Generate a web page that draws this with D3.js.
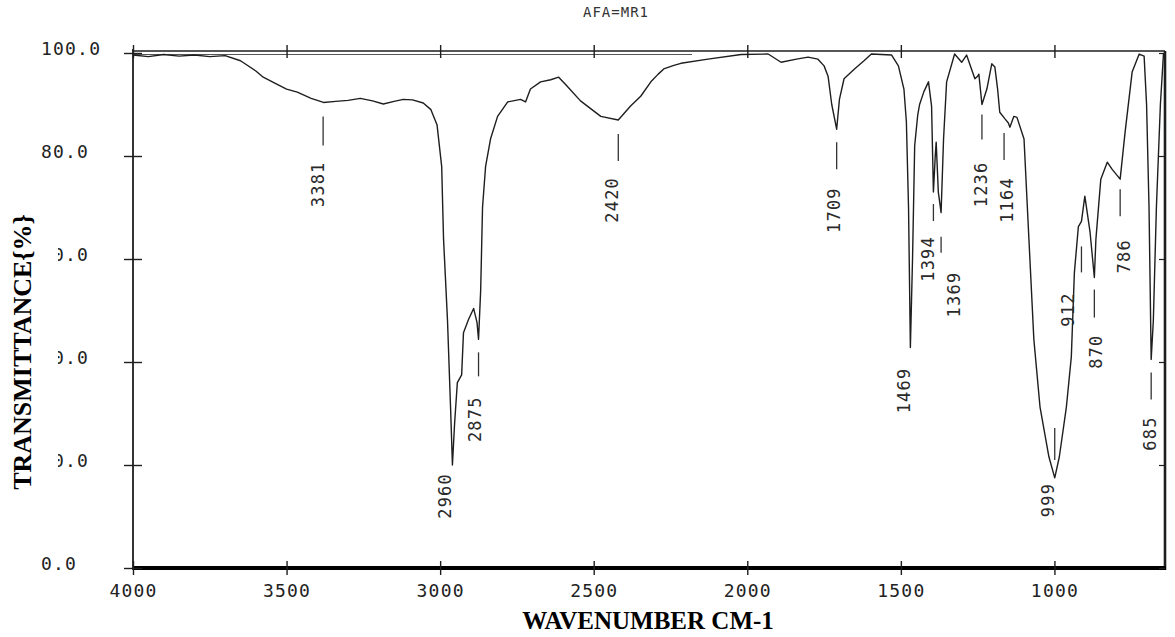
<!DOCTYPE html>
<html>
<head>
<meta charset="utf-8">
<script src="https://cdn.jsdelivr.net/npm/d3@7"></script>
<style>
  html, body { margin: 0; padding: 0; background: #fff; }
  svg { display: block; }
</style>
</head>
<body>
<svg id="chart" width="1175" height="637"></svg>
<script>
// ---------------- DATA ----------------
const chartTitle = "AFA=MR1";
const xAxisTitle = "WAVENUMBER CM-1";
const yAxisTitle = "TRANSMITTANCE{%}";
const xTickValues = [4000, 3500, 3000, 2500, 2000, 1500, 1000];
const yTickValues = [0, 20, 40, 60, 80, 100];

const wavenumbers = [
  4000, 3950, 3900, 3850, 3800, 3750, 3700, 3650, 3600, 3576, 3540, 3500, 3465, 3420, 3380,
  3340, 3300, 3260, 3220, 3185, 3150, 3120, 3090, 3055, 3030, 3010, 2995, 2989, 2976, 2966,
  2960, 2953, 2944, 2930, 2924, 2908, 2891, 2880, 2875, 2868, 2862, 2852, 2836, 2813, 2780,
  2738, 2722, 2706, 2673, 2640, 2614, 2590, 2543, 2477, 2420, 2380, 2347, 2314, 2290, 2272,
  2239, 2216, 2128, 2020, 1932, 1890, 1840, 1802, 1770, 1750, 1737, 1725, 1709, 1700, 1685,
  1651, 1620, 1596, 1530, 1508, 1490, 1482, 1475, 1469, 1462, 1455, 1445, 1439, 1425, 1410,
  1400, 1394, 1388, 1385, 1378, 1369, 1361, 1351, 1325, 1302, 1286, 1259, 1250, 1246, 1236,
  1220, 1204, 1194, 1185, 1178, 1161, 1150, 1145, 1132, 1122, 1099, 1083, 1067, 1047, 1018,
  999, 984, 961, 945, 935, 922, 912, 901, 884, 870, 865, 849, 828, 812, 786,
  770, 747, 724, 708, 700, 692, 685, 678, 668, 655, 645, 640
];
const transmittance = [
  99.6, 99.3, 99.7, 99.4, 99.6, 99.3, 99.5, 98.5, 96.5, 95.3, 94.2, 93.0, 92.4, 91.2, 90.4,
  90.6, 90.8, 91.2, 90.7, 90.1, 90.6, 91.0, 90.9, 90.3, 89.0, 86.0, 78.0, 64.0, 48.0, 31.0,
  20.0, 28.0, 36.0, 37.5, 45.7, 48.2, 50.4, 47.7, 44.4, 54.0, 70.0, 78.0, 83.3, 87.7, 90.5,
  91.0, 90.5, 93.0, 94.4, 94.8, 95.3, 93.8, 90.7, 87.7, 87.0, 89.7, 91.6, 94.4, 95.9, 96.9,
  97.6, 98.0, 98.8, 99.7, 99.8, 98.2, 98.8, 99.2, 98.8, 97.5, 95.5, 90.0, 85.2, 91.0, 95.0,
  96.9, 98.5, 99.8, 99.6, 97.5, 93.0, 86.6, 70.0, 42.8, 60.0, 82.0, 88.0, 90.0, 92.5, 94.4,
  89.7, 73.0, 80.0, 82.7, 73.0, 69.0, 83.3, 94.4, 99.8, 98.2, 99.6, 95.0, 95.5, 95.9, 90.0,
  93.0, 97.9, 97.3, 93.0, 88.5, 87.2, 86.4, 85.6, 87.7, 87.5, 83.3, 63.8, 44.4, 31.3, 21.6,
  17.5, 21.6, 31.3, 41.0, 57.4, 66.3, 67.3, 72.2, 65.2, 56.4, 63.8, 75.5, 78.8, 77.4, 75.5,
  84.6, 96.3, 99.8, 99.4, 90.0, 70.0, 40.5, 48.0, 70.0, 90.0, 99.8, 100.0
];

const peakLabels = ["3381", "2960", "2875", "2420", "1709", "1469", "1394", "1369", "1236", "1164", "999", "912", "870", "786", "685"];
const peakWavenumbers = [3381, 2960, 2875, 2420, 1709, 1469, 1394, 1369, 1236, 1164, 999, 912, 870, 786, 685];
const peakTransmittance = [90.4, 20.0, 44.4, 87.0, 85.2, 42.8, 73.0, 69.0, 90.0, 86.0, 17.5, 67.3, 56.4, 75.5, 40.5];

// ---------------- LAYOUT ----------------
// annotation layout per label: [lineStart, lineEnd, textTop, dx] offsets (px) from the peak point
const annLayout = {
  "3381": [14, 43, 59, 0],   "2960": [null, null, 8, -2], "2875": [13, 37, 57, 1],
  "2420": [14, 41, 57, -1],  "1709": [13, 40, 58, 2],     "1469": [null, null, 20, -1],
  "1394": [12, 29, 44, 0],   "1369": [24, 40, 59, 18],    "1236": [10, 35, 57, 4],
  "1164": [8, 35, 52, 8],    "999":  [-50, -18, 5, -2],   "912":  [25, 51, 71, -8],
  "870":  [12, 40, 57, 7],   "786":  [10, 37, 60, 9],     "685":  [13, 40, 57, 4]
};

const W = 1175, H = 637;
const pL = 133, pR = 1165, pT = 53, pB = 568;
const monoFont = "'DejaVu Sans Mono', 'Liberation Mono', monospace";
const serifFont = "'Liberation Serif', 'Times New Roman', serif";
const ink = "#1e1e1e";

const svg = d3.select("#chart");
svg.append("rect").attr("width", W).attr("height", H).attr("fill", "#fff");

const x = d3.scaleLinear().domain([4000, 640]).range([pL, pR]);
const y = d3.scaleLinear().domain([0, 100]).range([pB, pT]);

// ---------- frame ----------
const frame = svg.append("g");
frame.append("line").attr("x1", pL).attr("x2", pR).attr("y1", pT - 2).attr("y2", pT - 2)
  .attr("stroke", ink).attr("stroke-width", 1.6);
frame.append("line").attr("x1", pL).attr("x2", x(2180)).attr("y1", pT + 1.5).attr("y2", pT + 1.5)
  .attr("stroke", "#555").attr("stroke-width", 1);
frame.append("line").attr("x1", pL).attr("x2", pL).attr("y1", pT - 4).attr("y2", pB + 2)
  .attr("stroke", ink).attr("stroke-width", 1.8);
frame.append("line").attr("x1", pR).attr("x2", pR).attr("y1", pT - 2).attr("y2", pB + 2)
  .attr("stroke", ink).attr("stroke-width", 2.6);
frame.append("line").attr("x1", pL).attr("x2", pR + 1).attr("y1", pB).attr("y2", pB)
  .attr("stroke", "#000").attr("stroke-width", 4);

// ---------- axes ----------
const xAxisB = svg.append("g").attr("transform", `translate(0,${pB})`)
  .call(d3.axisBottom(x).tickValues(xTickValues).tickSize(6).tickFormat(d3.format("d")));
xAxisB.select(".domain").remove();
xAxisB.selectAll(".tick line").attr("y1", -7).attr("y2", 7).attr("stroke", ink).attr("stroke-width", 1.4);
xAxisB.selectAll(".tick text")
  .attr("y", 29).attr("dy", 0)
  .attr("font-family", monoFont).attr("font-size", 18).attr("letter-spacing", 1.2)
  .attr("fill", "#222").attr("text-anchor", "middle");

const xAxisT = svg.append("g").attr("transform", `translate(0,${pT - 2})`)
  .call(d3.axisTop(x).tickValues(xTickValues).tickSize(6).tickFormat(""));
xAxisT.select(".domain").remove();
xAxisT.selectAll(".tick line").attr("y1", -6).attr("y2", 7).attr("stroke", ink).attr("stroke-width", 1.4);

const yAxisL = svg.append("g").attr("transform", `translate(${pL},0)`)
  .call(d3.axisLeft(y).tickValues(yTickValues).tickSize(6).tickFormat(d3.format(".1f")));
yAxisL.select(".domain").remove();
yAxisL.selectAll(".tick line").attr("x1", -9).attr("x2", 9).attr("stroke", ink).attr("stroke-width", 1.4);
yAxisL.selectAll(".tick text")
  .attr("x", 41 - pL).attr("dy", 0).attr("y", 1)
  .attr("text-anchor", "start")
  .attr("font-family", monoFont).attr("font-size", 18).attr("letter-spacing", 1.2)
  .attr("fill", "#222");

const yAxisR = svg.append("g").attr("transform", `translate(${pR},0)`)
  .call(d3.axisLeft(y).tickValues(yTickValues).tickSize(6).tickFormat(""));
yAxisR.select(".domain").remove();
yAxisR.selectAll(".tick line").attr("stroke", ink).attr("stroke-width", 1.2);

// ---------- spectrum ----------
const pts = wavenumbers.map((w, i) => [w, transmittance[i]]);
svg.append("path")
  .datum(pts)
  .attr("fill", "none")
  .attr("stroke", ink)
  .attr("stroke-width", 1.4)
  .attr("stroke-linejoin", "round")
  .attr("d", d3.line().x(d => x(d[0])).y(d => y(d[1])));

// ---------- peak annotations ----------
const ann = svg.append("g");
peakLabels.forEach((lab, i) => {
  const px = x(peakWavenumbers[i]);
  const py = y(peakTransmittance[i]);
  const [l0, l1, tTop, dx] = annLayout[lab];
  if (l0 !== null) {
    ann.append("line").attr("x1", px).attr("x2", px)
      .attr("y1", py + l0).attr("y2", py + l1)
      .attr("stroke", "#333").attr("stroke-width", 1.3);
  }
  const tx = px + 1 + dx, ty = py + tTop;
  ann.append("text")
    .attr("transform", `translate(${tx},${ty}) rotate(-90)`)
    .attr("text-anchor", "end")
    .attr("font-family", monoFont).attr("font-size", 17).attr("letter-spacing", 1.2)
    .attr("fill", "#2a2a2a")
    .text(lab);
});

// ---------- titles ----------
svg.append("text")
  .attr("x", 616).attr("y", 17)
  .attr("text-anchor", "middle")
  .attr("font-family", monoFont).attr("font-size", 14).attr("letter-spacing", 1)
  .attr("fill", "#333")
  .text(chartTitle);

svg.append("text")
  .attr("x", 648).attr("y", 629)
  .attr("text-anchor", "middle")
  .attr("font-family", serifFont).attr("font-weight", "bold").attr("font-size", 25)
  .attr("fill", "#000")
  .text(xAxisTitle);

svg.append("rect").attr("x", 0).attr("y", 200).attr("width", 58).attr("height", 300).attr("fill", "#fff");
svg.append("text")
  .attr("transform", `translate(31,352) rotate(-90)`)
  .attr("text-anchor", "middle")
  .attr("font-family", serifFont).attr("font-weight", "bold").attr("font-size", 26)
  .attr("fill", "#000")
  .text(yAxisTitle);
</script>
</body>
</html>
